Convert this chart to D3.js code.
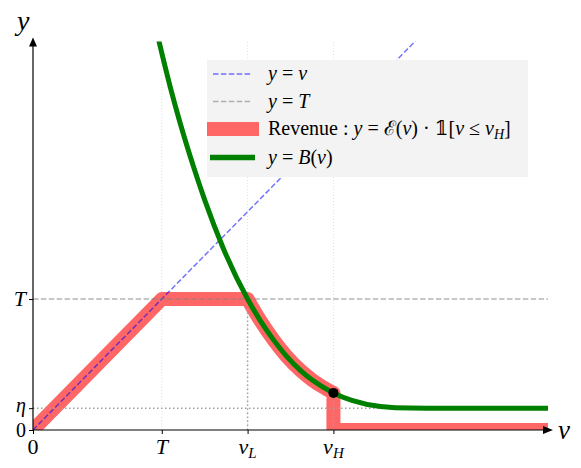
<!DOCTYPE html>
<html>
<head>
<meta charset="utf-8">
<script src="https://cdn.jsdelivr.net/npm/d3@7"></script>
<style>
  body { margin: 0; background: #fff; }
  svg { display: block; }
  text { font-family: "Liberation Serif", "DejaVu Serif", serif; fill: #000; }
</style>
</head>
<body>
<svg id="chart" width="581" height="468"></svg>
<script>
const T = 3, V_L = 5, V_H = 7, ETA = 0.5;
const X_MAX = 12, Y_MAX = 8.9;

// B(v), points
const B_V = [2.9, 3.2, 3.4, 3.75, 4.0, 4.43, 5.0, 5.3, 5.6, 5.9, 6.25, 6.5, 6.73, 7.0, 7.43, 8.1, 8.8, 9.5, 12];
const B_Y = [9.05, 7.85, 7.13, 6.0, 5.27, 4.17, 3.0, 2.5, 2.07, 1.7, 1.35, 1.15, 1.0, 0.85, 0.68, 0.54, 0.502, 0.5, 0.5];

const X_TICKS = [0, T, V_L, V_H];
const X_LABELS = [["0"], ["T"], ["v", "L"], ["v", "H"]];
const Y_TICKS = [0, ETA, T];
const Y_LABELS = ["0", "η", "T"];

const svg = d3.select('#chart');

const x = d3.scaleLinear().domain([0, X_MAX]).range([33, 548]);
const y = d3.scaleLinear().domain([0, Y_MAX]).range([430, 41.5]);

svg.append('defs').append('clipPath').attr('id', 'plot')
  .append('rect')
  .attr('x', x(0)).attr('y', y(Y_MAX))
  .attr('width', x(X_MAX) - x(0)).attr('height', y(0) - y(Y_MAX));

const plot = svg.append('g').attr('clip-path', 'url(#plot)');

// light grid at the x ticks
plot.selectAll('.grid')
  .data(X_TICKS.slice(1))
  .enter().append('line')
  .attr('x1', d => x(d)).attr('x2', d => x(d))
  .attr('y1', y(0)).attr('y2', y(Y_MAX))
  .attr('stroke', '#d8d8d8').attr('stroke-width', 0.8)
  .attr('stroke-dasharray', '1,2');

const bPts = B_V.map((v, i) => [v, B_Y[i]]);
const bAtVH = B_Y[B_V.indexOf(V_H)];
const lin = d3.line().x(d => x(d[0])).y(d => y(d[1]));
const smooth = d3.line().x(d => x(d[0])).y(d => y(d[1])).curve(d3.curveMonotoneX);

// revenue: rise, plateau, follow B until v_H, then zero
const revA = lin([[0, 0], [T, T], [V_L, T]]);
const revB = smooth(bPts.filter(p => p[0] >= V_L && p[0] <= V_H)).replace(/^M/, 'L');
const revC = lin([[V_H, 0], [X_MAX, 0]]).replace(/^M/, 'L');

plot.append('path')
  .attr('d', revA + revB + revC)
  .attr('fill', 'none')
  .attr('stroke', '#ff6666')
  .attr('stroke-width', 14)
  .attr('stroke-linejoin', 'round')
  .attr('stroke-linecap', 'square');

// y = v
plot.append('path')
  .attr('d', lin([[0, 0], [X_MAX, X_MAX]]))
  .attr('stroke', 'rgba(0,0,255,0.55)')
  .attr('stroke-width', 1.5)
  .attr('stroke-dasharray', '5.5,2.4');

// y = T
plot.append('path')
  .attr('d', lin([[0, T], [X_MAX, T]]))
  .attr('stroke', 'rgba(128,128,128,0.6)')
  .attr('stroke-width', 1.5)
  .attr('stroke-dasharray', '5.5,2.4');

// dotted guides
const guides = [
  [[V_L, 0], [V_L, T]],
  [[V_H, 0], [V_H, bAtVH]],
  [[0, ETA], [X_MAX, ETA]]
];
plot.selectAll('.guide')
  .data(guides)
  .enter().append('path')
  .attr('d', d => lin(d))
  .attr('stroke', '#a0a0a0')
  .attr('stroke-width', 1.5)
  .attr('stroke-dasharray', '1.5,2.5');

// y = B(v)
plot.append('path')
  .attr('d', smooth(bPts))
  .attr('fill', 'none')
  .attr('stroke', 'green')
  .attr('stroke-width', 5);

plot.append('circle')
  .attr('cx', x(V_H)).attr('cy', y(bAtVH))
  .attr('r', 5).attr('fill', '#000');

// axes
const axes = svg.append('g');
axes.append('line')
  .attr('x1', x(0)).attr('x2', x(X_MAX))
  .attr('y1', y(0)).attr('y2', y(0))
  .attr('stroke', '#000').attr('stroke-width', 1.2);
axes.append('line')
  .attr('x1', x(0)).attr('x2', x(0))
  .attr('y1', y(0)).attr('y2', y(Y_MAX))
  .attr('stroke', '#000').attr('stroke-width', 1.2);
axes.append('path')
  .attr('d', `M${x(X_MAX) - 5},${y(0) - 4}L${x(X_MAX) + 5},${y(0)}L${x(X_MAX) - 5},${y(0) + 4}Z`)
  .attr('fill', '#000');
axes.append('path')
  .attr('d', `M${x(0) - 4},${y(Y_MAX) + 5}L${x(0)},${y(Y_MAX) - 4}L${x(0) + 4},${y(Y_MAX) + 5}Z`)
  .attr('fill', '#000');

const xAxis = svg.append('g')
  .attr('transform', `translate(0,${y(0)})`)
  .call(d3.axisBottom(x).tickValues(X_TICKS).tickFormat('').tickSizeInner(4).tickSizeOuter(0));
xAxis.select('.domain').remove();
const yAxis = svg.append('g')
  .attr('transform', `translate(${x(0)},0)`)
  .call(d3.axisLeft(y).tickValues(Y_TICKS).tickFormat('').tickSizeInner(4).tickSizeOuter(0));
yAxis.select('.domain').remove();

// tick labels
X_LABELS.forEach((lab, i) => {
  const t = svg.append('text')
    .attr('x', x(X_TICKS[i])).attr('y', 454)
    .attr('text-anchor', 'middle')
    .style('font-size', '22px');
  t.append('tspan').text(lab[0]).style('font-style', lab[0] === '0' ? 'normal' : 'italic');
  if (lab[1]) {
    t.append('tspan').text(lab[1]).style('font-style', 'italic')
      .style('font-size', '15px').attr('dy', 4);
  }
});
const Y_SHIFT = [7, 4, 7];
Y_LABELS.forEach((lab, i) => {
  svg.append('text')
    .attr('x', 26).attr('y', y(Y_TICKS[i]) + Y_SHIFT[i])
    .attr('text-anchor', 'end')
    .style('font-size', lab === 'T' ? '22px' : '20px')
    .style('font-style', lab === '0' ? 'normal' : 'italic')
    .text(lab);
});

svg.append('text').attr('x', 17).attr('y', 30)
  .style('font-size', '28px').style('font-style', 'italic').text('y');
svg.append('text').attr('x', 558).attr('y', 439)
  .style('font-size', '27px').style('font-style', 'italic').text('v');

// legend
const legend = svg.append('g');
legend.append('rect')
  .attr('x', 207).attr('y', 60).attr('width', 321).attr('height', 117)
  .attr('fill', '#f3f3f3');

const rows = [74, 101.5, 129, 157.5];
legend.append('line').attr('x1', 213).attr('x2', 252).attr('y1', rows[0]).attr('y2', rows[0])
  .attr('stroke', 'rgba(0,0,255,0.55)').attr('stroke-width', 1.5).attr('stroke-dasharray', '5.5,2.4');
legend.append('line').attr('x1', 213).attr('x2', 252).attr('y1', rows[1]).attr('y2', rows[1])
  .attr('stroke', 'rgba(128,128,128,0.6)').attr('stroke-width', 1.5).attr('stroke-dasharray', '5.5,2.4');
legend.append('rect').attr('x', 207).attr('y', rows[2] - 7).attr('width', 52).attr('height', 14)
  .attr('fill', '#ff6666');
legend.append('line').attr('x1', 210).attr('x2', 255).attr('y1', rows[3]).attr('y2', rows[3])
  .attr('stroke', 'green').attr('stroke-width', 5.5);

// rich text: [text, italic, subscript]
const SP = '\u2005';
const legendTexts = [
  [['y', 1], [SP + '=' + SP, 0], ['v', 1]],
  [['y', 1], [SP + '=' + SP, 0], ['T', 1]],
  [['Revenue' + SP + ':' + SP, 0], ['y', 1], [SP + '=' + SP, 0], ['ℰ', 0], ['(', 0], ['v', 1], [')' + SP + '·' + SP, 0], ['𝟙', 0], ['[', 0], ['v', 1], [SP + '≤' + SP, 0], ['v', 1], ['H', 1, 1], [']', 0]],
  [['y', 1], [SP + '=' + SP, 0], ['B', 1], ['(', 0], ['v', 1], [')', 0]]
];
legendTexts.forEach((parts, i) => {
  const t = legend.append('text')
    .attr('x', 268).attr('y', rows[i] + 6)
    .style('font-size', '20px');
  let sub = false;
  parts.forEach(p => {
    const s = t.append('tspan').text(p[0]).style('font-style', p[1] ? 'italic' : 'normal');
    if (p[2]) { s.style('font-size', '14px').attr('dy', 4); sub = true; }
    else if (sub) { s.attr('dy', -4); sub = false; }
  });
});
</script>
</body>
</html>
